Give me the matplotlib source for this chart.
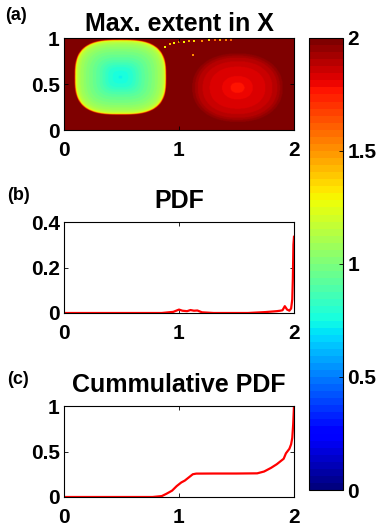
import numpy as np
import matplotlib.pyplot as plt

plt.rcParams['font.family'] = ['Liberation Sans', 'DejaVu Sans']
plt.rcParams['font.weight'] = 'bold'

# ---- panel (a): radial profiles of the two gyres
left_center = (0.49, 0.575)
left_half = (0.39, 0.40)
left_r = [0.0, 0.25, 0.5, 0.75, 0.9, 0.96, 1.0, 1.03]
left_v = [0.74, 0.80, 0.92, 1.02, 1.10, 1.16, 1.26, 2.0]

right_center = (1.51, 0.46)
right_half = (0.38, 0.36)
right_r = [0.0, 0.2, 0.4, 0.7, 0.9, 1.0, 1.1]
right_v = [1.75, 1.79, 1.82, 1.85, 1.90, 1.95, 2.0]
background = 2.0

# speckle trail along the top edge
trail_x = [0.88, 0.92, 0.96, 1.0, 1.04, 1.09, 1.13, 1.2, 1.26, 1.31, 1.36, 1.41, 1.45, 1.12]
trail_y = [0.90, 0.93, 0.95, 0.955, 0.96, 0.965, 0.97, 0.97, 0.975, 0.975, 0.975, 0.98, 0.98, 0.82]
trail_v = [1.3, 1.45, 1.3, 1.5, 1.3, 1.45, 1.35, 1.5, 1.4, 1.6, 1.45, 1.55, 1.6, 1.5]

# ---- panel (b): PDF
pdf_x = [0.0, 0.85, 0.95, 1.0, 1.03, 1.07, 1.1, 1.13, 1.16, 1.2, 1.3, 1.6, 1.75,
         1.85, 1.88, 1.9, 1.92, 1.94, 1.96, 1.975, 1.985, 1.99, 1.995, 2.0]
pdf_y = [0.0, 0.0, 0.005, 0.015, 0.01, 0.008, 0.013, 0.01, 0.011, 0.003, 0.0,
         0.0, 0.004, 0.008, 0.01, 0.012, 0.03, 0.015, 0.01, 0.02, 0.06, 0.15,
         0.30, 0.335]

# ---- panel (c): cumulative PDF
cdf_x = [0.0, 0.77, 0.85, 0.89, 0.94, 0.98, 1.02, 1.05, 1.09, 1.12, 1.15,
         1.3, 1.5, 1.68, 1.74, 1.80, 1.85, 1.89, 1.91, 1.93, 1.96, 1.975,
         1.985, 1.993, 2.0]
cdf_y = [0.0, 0.0, 0.01, 0.035, 0.07, 0.12, 0.16, 0.18, 0.22, 0.25, 0.257,
         0.258, 0.258, 0.26, 0.28, 0.32, 0.36, 0.40, 0.42, 0.48, 0.53, 0.58,
         0.65, 0.80, 1.0]


def gyre(X, Y, center, half, r, v, p):
    d = ((np.abs(X - center[0]) / half[0]) ** p +
         (np.abs(Y - center[1]) / half[1]) ** p) ** (1.0 / p)
    return np.interp(d, r, v, right=background)


xs = np.linspace(0, 2, 400)
ys = np.linspace(0, 1, 200)
X, Y = np.meshgrid(xs, ys)
field = np.minimum(gyre(X, Y, left_center, left_half, left_r, left_v, 3.0),
                   gyre(X, Y, right_center, right_half, right_r, right_v, 2.2))

jet64 = plt.get_cmap('jet').resampled(64)

W, H = 377, 529
fig = plt.figure(figsize=(W / 100, H / 100), dpi=100)


def box(l, t, r, b):
    return [l / W, 1 - b / H, (r - l) / W, (b - t) / H]


tick_fs = 15
title_fs = 18
lab_fs = 13


def style(ax):
    ax.tick_params(direction='in', length=3, width=0.6, labelsize=tick_fs,
                   top=True, right=True)
    ax.tick_params(axis='x', pad=8)
    ax.tick_params(axis='y', pad=3)
    for s in ax.spines.values():
        s.set_linewidth(0.8)


ax_a = fig.add_axes(box(64, 38, 294, 130))
im = ax_a.imshow(field, extent=[0, 2, 0, 1], origin='lower', aspect='auto',
                 cmap=jet64, vmin=0, vmax=2, interpolation='bilinear')
ax_a.scatter(trail_x, trail_y, c=trail_v, cmap=jet64, vmin=0, vmax=2,
             marker='s', s=2, linewidths=0)
ax_a.set_xlim(0, 2)
ax_a.set_ylim(0, 1)
ax_a.set_xticks([0, 1, 2], ['0', '1', '2'])
ax_a.set_yticks([0, 0.5, 1], ['0', '0.5', '1'])
style(ax_a)
ax_a.set_title('Max. extent in X', fontsize=title_fs, fontweight='bold', pad=5)
fig.text(5 / W, 1 - 16 / H, '(a)', fontsize=lab_fs, fontweight='bold', va='center')

ax_b = fig.add_axes(box(64, 222, 294, 313))
ax_b.plot(pdf_x, pdf_y, color='red', lw=1.6)
ax_b.set_xlim(0, 2)
ax_b.set_ylim(0, 0.4)
ax_b.set_xticks([0, 1, 2], ['0', '1', '2'])
ax_b.set_yticks([0, 0.2, 0.4], ['0', '0.2', '0.4'])
style(ax_b)
ax_b.set_title('PDF', fontsize=title_fs, fontweight='bold', pad=10)
fig.text(7 / W, 1 - 196 / H, '(b)', fontsize=lab_fs, fontweight='bold', va='center')

ax_c = fig.add_axes(box(64, 406, 294, 497))
ax_c.plot(cdf_x, cdf_y, color='red', lw=1.6)
ax_c.set_xlim(0, 2)
ax_c.set_ylim(0, 1)
ax_c.set_xticks([0, 1, 2], ['0', '1', '2'])
ax_c.set_yticks([0, 0.5, 1], ['0', '0.5', '1'])
style(ax_c)
ax_c.set_title('Cummulative PDF', fontsize=title_fs, fontweight='bold', pad=10)
fig.text(7 / W, 1 - 380 / H, '(c)', fontsize=lab_fs, fontweight='bold', va='center')

cax = fig.add_axes(box(309, 38, 343, 490))
cb = fig.colorbar(im, cax=cax, ticks=[0, 0.5, 1, 1.5, 2])
cb.ax.set_yticklabels(['0', '0.5', '1', '1.5', '2'])
cb.ax.tick_params(labelsize=tick_fs, length=3, width=0.6, direction='in', pad=3)
cb.outline.set_linewidth(0.8)

fig.savefig('out.png', dpi=100)
